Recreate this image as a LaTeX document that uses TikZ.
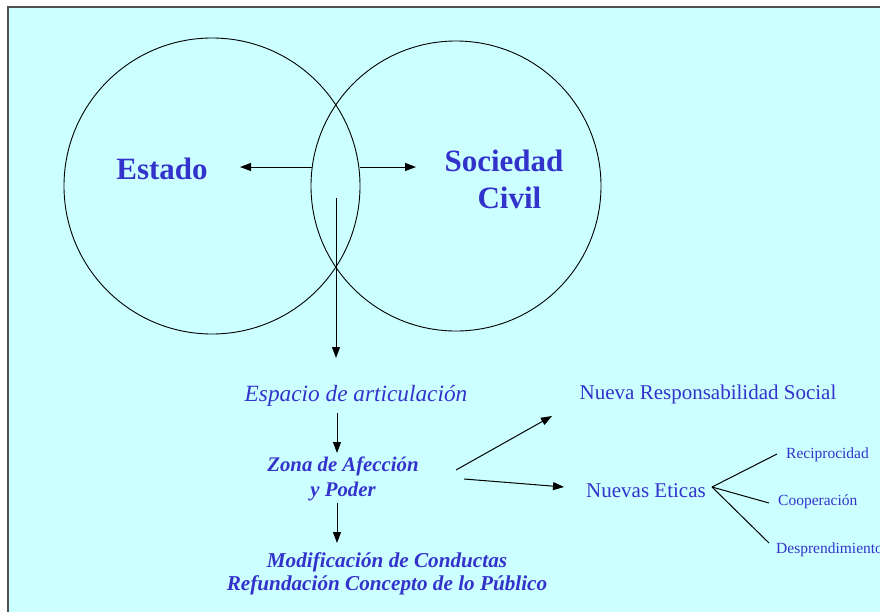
\documentclass[tikz,border=0pt]{standalone}
\usepackage{fontspec}
\setmainfont{Liberation Serif}
\usetikzlibrary{arrows.meta}
\definecolor{txtblue}{RGB}{51,51,204}
\definecolor{bgcyan}{RGB}{204,255,255}
\definecolor{frame}{RGB}{80,80,80}
\tikzset{
  conn/.style={line width=1pt, draw=black},
  arr/.style={conn, -{Triangle[length=11pt,width=8pt]}},
  big/.style={text=txtblue, font=\fontsize{31}{37}\selectfont\bfseries, inner sep=0pt, align=center},
  mid/.style={text=txtblue, font=\fontsize{21}{25}\selectfont, inner sep=0pt, align=center},
  small/.style={text=txtblue, font=\fontsize{15.5}{18}\selectfont, inner sep=0pt, anchor=west},
  ring/.style={circle, draw=black, line width=0.9pt, inner sep=0pt},
}
\begin{document}
\begin{tikzpicture}[x=1pt,y=-1pt]
\useasboundingbox (0,0) rectangle (880,611);
\fill[white] (0,0) rectangle (880,611);
\draw[fill=bgcyan, draw=frame, line width=2pt] (8,7) rectangle (895,630);
% circles
\node[ring, minimum size=296pt] (cL) at (212,186) {};
\node[ring, minimum size=290pt] (cR) at (456,186) {};
% labels
\node[big] (estado) at (162,169) {Estado};
\node[big] (soc) at (504,179) {Sociedad\\\hspace*{0.35em}Civil};
\node[mid, font=\fontsize{23.3}{27}\selectfont\itshape] (esp) at (356,396) {Espacio de articulación};
\node[mid, font=\fontsize{20.8}{25}\selectfont\bfseries\itshape] (zona) at (343,479) {Zona de Afección\\y Poder};
\node[mid, font=\fontsize{21.2}{22.5}\selectfont\bfseries\itshape] (mod) at (387,574) {Modificación de Conductas\\Refundación Concepto de lo Público};
\node[mid] (nrs) at (708,394) {Nueva Responsabilidad Social};
\node[mid] (ne) at (646,491) {Nuevas Eticas};
\node[small] (rec) at (786,455) {Reciprocidad};
\node[small] (coop) at (778,502) {Cooperación};
\node[small] (desp) at (776,550) {Desprendimiento};
% coordinates
\coordinate (lensL) at (312,167);
\coordinate (lensR) at (360,167);
\coordinate (tipL) at (240,167);
\coordinate (tipR) at (416,167);
\coordinate (vtop) at (336,198);
\coordinate (vbot) at (336,358);
\coordinate (a1t) at (337,413);
\coordinate (a1b) at (337,453);
\coordinate (a2t) at (337,503);
\coordinate (a2b) at (337,543);
\coordinate (ntail1) at (456,470);
\coordinate (ntip1) at (552,416);
\coordinate (ntail2) at (464,479);
\coordinate (ntip2) at (564,487);
\coordinate (fan) at (712,487);
\coordinate (frec) at (777,454);
\coordinate (fcoop) at (769,503);
\coordinate (fdesp) at (769,543);
% connectors
\draw[arr] (lensL) -- (tipL);
\draw[arr] (lensR) -- (tipR);
\draw[arr] (vtop) -- (vbot);
\draw[arr] (a1t) -- (a1b);
\draw[arr] (a2t) -- (a2b);
\draw[arr] (ntail1) -- (ntip1);
\draw[arr] (ntail2) -- (ntip2);
\draw[conn] (fan) -- (frec);
\draw[conn] (fan) -- (fcoop);
\draw[conn] (fan) -- (fdesp);
\end{tikzpicture}
\end{document}
